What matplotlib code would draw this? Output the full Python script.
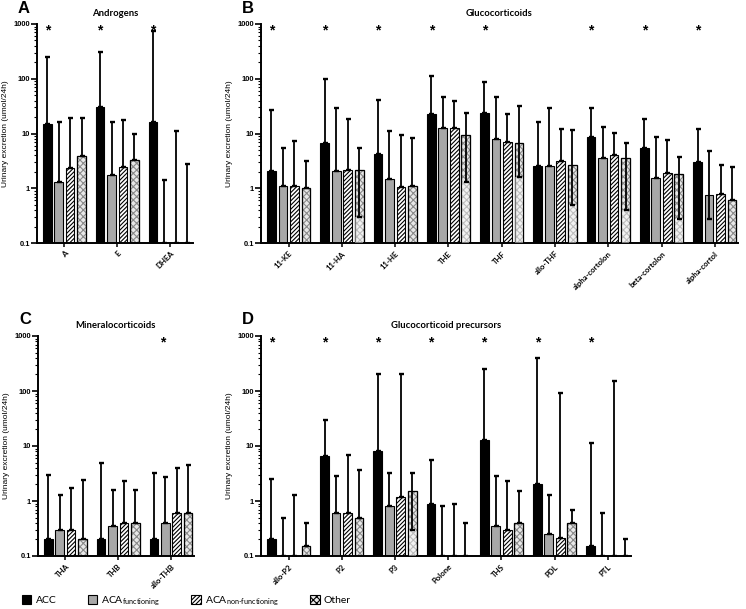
import numpy as np
import matplotlib
matplotlib.use("Agg")
import matplotlib.pyplot as plt
from matplotlib.patches import Patch
from matplotlib.ticker import LogLocator, NullFormatter, FixedLocator, FixedFormatter

nan = np.nan

# ---------------- data ----------------
series_labels = ["ACC", r"ACA$_{\mathrm{functioning}}$", r"ACA$_{\text{non-functioning}}$", "Other"]

# Panel A - Androgens
cats_A = ["A", "E", "DHEA"]
acc_A = [15, 31, 16]
acc_A_hi = [250, 310, 750]
fun_A = [1.3, 1.75, nan]
fun_A_hi = [16, 16, 1.4]
non_A = [2.3, 2.4, nan]
non_A_hi = [19.5, 17.5, 11]
oth_A = [3.9, 3.3, nan]
oth_A_hi = [19, 9.7, 2.8]
star_A = [1, 1, 1]

# Panel B - Glucocorticoids
cats_B = ["11-KE", "11-HA", "11-HE", "THE", "THF", "allo-THF", "alpha-cortolon", "beta-cortolon", "alpha-cortol"]
acc_B = [2.1, 6.6, 4.3, 23, 24, 2.5, 8.6, 5.4, 3.0]
acc_B_hi = [27, 97, 41, 112, 89, 16, 29, 18.5, 12]
fun_B = [1.1, 2.1, 1.45, 12.5, 8, 2.5, 3.6, 1.55, 0.75]
fun_B_hi = [5.4, 29, 11.3, 47, 46, 29, 13.4, 8.6, 4.8]
fun_B_lo = [nan, nan, nan, nan, nan, nan, nan, nan, 0.28]
non_B = [1.1, 2.2, 1.05, 12.5, 7, 3.2, 4.0, 1.9, 0.8]
non_B_hi = [7.3, 18.5, 9.3, 40, 23, 12.3, 10.4, 7.6, 2.7]
oth_B = [1.0, 2.2, 1.1, 9.3, 6.6, 2.7, 3.6, 1.8, 0.6]
oth_B_hi = [3.2, 5.4, 8.3, 24, 32, 11.7, 6.8, 3.8, 2.4]
oth_B_lo = [nan, 0.3, nan, 1.3, 1.6, 0.5, 0.4, 0.28, nan]
star_B = [1, 1, 1, 1, 1, 0, 1, 1, 1]

# Panel C - Mineralocorticoids
cats_C = ["THA", "THB", "allo-THB"]
acc_C = [0.2, 0.2, 0.2]
acc_C_hi = [3.0, 4.9, 3.2]
fun_C = [0.3, 0.35, 0.4]
fun_C_hi = [1.3, 1.6, 2.7]
non_C = [0.3, 0.4, 0.6]
non_C_hi = [1.75, 2.3, 3.9]
oth_C = [0.2, 0.4, 0.6]
oth_C_hi = [2.4, 1.6, 4.6]
star_C = [0, 0, 1]

# Panel D - Glucocorticoid precursors
cats_D = ["allo-P2", "P2", "P3", "Polone", "THS", "PDL", "PTL"]
acc_D = [0.2, 6.6, 8.2, 0.9, 13, 2.0, 0.15]
acc_D_hi = [2.5, 30, 200, 5.5, 250, 400, 11.5]
fun_D = [nan, 0.6, 0.8, nan, 0.35, 0.25, nan]
fun_D_hi = [0.5, 2.8, 3.2, 0.8, 2.9, 1.3, 0.6]
non_D = [nan, 0.6, 1.2, nan, 0.3, 0.21, nan]
non_D_hi = [1.3, 7, 200, 0.9, 2.3, 93, 150]
oth_D = [0.15, 0.5, 1.5, nan, 0.4, 0.4, nan]
oth_D_hi = [0.4, 3.6, 3.2, 0.4, 1.5, 0.7, 0.2]
oth_D_lo = [nan, nan, 0.3, nan, nan, nan, nan]
star_D = [1, 1, 1, 1, 1, 1, 1]

ytick_vals = [0.1, 1, 10, 100, 1000]
ytick_labels = ["0.1", "1", "10", "100", "1000"]

# ---------------- style ----------------
plt.rcParams['font.family'] = ['Lato', 'DejaVu Sans']
plt.rcParams['mathtext.fontset'] = 'custom'
plt.rcParams['mathtext.rm'] = 'Lato'
plt.rcParams['mathtext.it'] = 'Lato:italic'
plt.rcParams['mathtext.bf'] = 'Lato:bold'
plt.rcParams['hatch.linewidth'] = 0.8

W, H = 746, 609
fig = plt.figure(figsize=(W / 100, H / 100), dpi=100)
GP = 53.5
YMIN, YMAX = 0.1, 1000
offsets = [-0.324, -0.108, 0.108, 0.324]
BW = 0.165

styles = [
    dict(facecolor='black', edgecolor='black', hatch=None),
    dict(facecolor='#a8a8a8', edgecolor='black', hatch=None),
    dict(facecolor='white', edgecolor='black', hatch='////////'),
    dict(facecolor='#e8e8e8', edgecolor='#8a8a8a', hatch='xxxxx'),
]


def make_axes(left_px, top_px, bottom_px, n):
    width_px = (n - 0.09) * GP
    return fig.add_axes([left_px / W, 1 - bottom_px / H, width_px / W, (bottom_px - top_px) / H])


def draw_panel(ax, cats, vals, his, los, stars, star_off, title, letter):
    n = len(cats)
    x = np.arange(n)
    ax.set_yscale('log')
    for k in range(4):
        v = np.array(vals[k], dtype=float)
        st = styles[k]
        xs = x + offsets[k]
        ax.bar(xs, np.nan_to_num(v, nan=0.0), BW, bottom=0, facecolor=st['facecolor'],
               edgecolor=st['edgecolor'], hatch=st['hatch'], linewidth=0.8, zorder=2)
        if k == 3:
            ax.bar(xs, np.nan_to_num(v, nan=0.0), BW, bottom=0, facecolor='none',
                   edgecolor='black', linewidth=0.9, zorder=3)
        base = np.where(np.isnan(v), YMIN, v)
        hi = np.array(his[k], dtype=float)
        lo = np.array(los[k], dtype=float) if los[k] is not None else np.full(n, nan)
        lo_err = np.where(np.isnan(lo), 0.0, base - np.nan_to_num(lo, nan=0.0))
        if los[k] is not None and k == 3:
            ax.bar(xs, np.nan_to_num(lo, nan=0.0), BW * 0.85, bottom=0, facecolor='white',
                   alpha=0.45, linewidth=0, zorder=3)
        ax.errorbar(xs, base, yerr=[lo_err, hi - base], fmt='none', ecolor='black',
                    elinewidth=1.3, capsize=1.8, capthick=1.7, zorder=4)
    for i, s in enumerate(stars):
        if s:
            ax.text(i + star_off, 760, '*', ha='center', va='center', fontsize=10,
                    fontweight='bold', family='Liberation Sans', zorder=5)
    ax.set_ylim(YMIN, YMAX)
    ax.set_xlim(-0.52, n - 1 + 0.43)
    ax.yaxis.set_major_locator(FixedLocator(ytick_vals))
    ax.yaxis.set_major_formatter(FixedFormatter(ytick_labels))
    ax.yaxis.set_minor_locator(LogLocator(base=10, subs=np.arange(2, 10)))
    ax.yaxis.set_minor_formatter(NullFormatter())
    ax.set_xticks(x)
    ax.set_xticklabels(cats, rotation=45, ha='right', rotation_mode='anchor',
                       fontsize=5.6, fontweight='bold')
    for lab in ax.get_yticklabels():
        lab.set_fontsize(5.4)
        lab.set_fontweight('bold')
        lab.set_family('Liberation Sans')
    ax.tick_params(axis='y', which='major', length=4, width=1.2, pad=1)
    ax.tick_params(axis='y', which='minor', length=2, width=0.8)
    ax.tick_params(axis='x', which='major', length=3, width=1.1, pad=2)
    for sp in ['top', 'right']:
        ax.spines[sp].set_visible(False)
    for sp in ['left', 'bottom']:
        ax.spines[sp].set_linewidth(1.4)
    ax.set_ylabel("Urinary excretion (umol/24h)", fontsize=6.0, family='Liberation Sans')
    ax.yaxis.set_label_coords(-28 / (ax.get_position().width * W), 0.5)
    ax.set_title(title, fontsize=6.8, fontweight='bold', pad=6)
    pos = ax.get_position()
    fig.text(pos.x0 - 13 / W, pos.y1 + 16 / H, letter, fontsize=12, fontweight='bold',
             family='Liberation Sans', ha='center', va='center')


axA = make_axes(37, 24, 243, len(cats_A))
draw_panel(axA, cats_A, [acc_A, fun_A, non_A, oth_A], [acc_A_hi, fun_A_hi, non_A_hi, oth_A_hi],
           [None, None, None, None], star_A, offsets[0], "Androgens", "A")

axB = make_axes(261, 24, 243, len(cats_B))
draw_panel(axB, cats_B, [acc_B, fun_B, non_B, oth_B], [acc_B_hi, fun_B_hi, non_B_hi, oth_B_hi],
           [None, fun_B_lo, None, oth_B_lo], star_B, offsets[0], "Glucocorticoids", "B")

axC = make_axes(38, 336, 556, len(cats_C))
draw_panel(axC, cats_C, [acc_C, fun_C, non_C, oth_C], [acc_C_hi, fun_C_hi, non_C_hi, oth_C_hi],
           [None, None, None, None], star_C, -0.15, "Mineralocorticoids", "C")

axD = make_axes(261, 336, 556, len(cats_D))
draw_panel(axD, cats_D, [acc_D, fun_D, non_D, oth_D], [acc_D_hi, fun_D_hi, non_D_hi, oth_D_hi],
           [None, None, None, oth_D_lo], star_D, offsets[0], "Glucocorticoid precursors", "D")

handles = []
for st in styles:
    handles.append(Patch(facecolor=st['facecolor'], edgecolor='black', hatch=st['hatch'], linewidth=0.8))
fig.legend(handles, series_labels, loc='center left', bbox_to_anchor=(22 / W, 1 - 601 / H),
           ncol=4, frameon=False, fontsize=7.5, handlelength=0.9, handleheight=0.9,
           handletextpad=0.4, columnspacing=3.0, borderaxespad=0, borderpad=0)

fig.savefig("out.png", dpi=100)
